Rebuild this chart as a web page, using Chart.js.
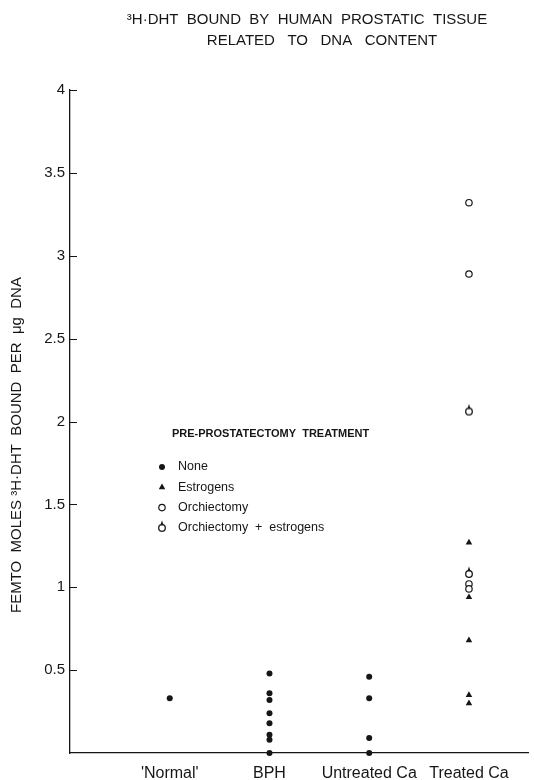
<!DOCTYPE html>
<html>
<head>
<meta charset="utf-8">
<script src="https://cdn.jsdelivr.net/npm/chart.js@4"></script>
<style>
  html, body { margin: 0; padding: 0; background: #fff; }
  #wrap { width: 534px; height: 780px; }
</style>
</head>
<body>
<div id="wrap"><canvas id="grafico"></canvas></div>
<script>
const categorias = ["'Normal'", 'BPH', 'Untreated Ca', 'Treated Ca'];
const yTicks = [0.5, 1, 1.5, 2, 2.5, 3, 3.5, 4];

// valores (fmol por ug DNA)
const nenhumNormal = [0.33];
const nenhumBPH = [0.48, 0.36, 0.32, 0.24, 0.18, 0.11, 0.08, 0.0];
const nenhumUntreated = [0.46, 0.33, 0.09, 0.0];
const estrogenosTreated = [1.27, 0.94, 0.68, 0.35, 0.30];
const orquiTreated = [3.32, 2.89, 1.02, 0.99];
const orquiEstrTreated = [2.06, 1.08];

const FONTE = '"Liberation Sans", Arial, sans-serif';
const COR = '#161616';

function pontos(cat, vals) {
  const x = categorias.indexOf(cat) + 1;
  return vals.map(v => ({ x: x, y: v }));
}

// marcador: circulo aberto com ponta em cima
const gota = document.createElement('canvas');
gota.width = 12; gota.height = 20;
(function () {
  const c = gota.getContext('2d');
  c.strokeStyle = COR; c.fillStyle = COR; c.lineWidth = 1.3;
  c.beginPath(); c.arc(6, 10, 3.3, 0, Math.PI * 2); c.stroke();
  c.beginPath(); c.moveTo(6, 2.5); c.lineTo(7.6, 7.2); c.lineTo(4.4, 7.2); c.closePath(); c.fill();
})();

const dados = {
  datasets: [{
    label: 'None',
    data: [].concat(pontos("'Normal'", nenhumNormal), pontos('BPH', nenhumBPH), pontos('Untreated Ca', nenhumUntreated)),
    pointStyle: 'circle', pointRadius: 3, backgroundColor: COR, borderColor: COR, borderWidth: 0
  }, {
    label: 'Estrogens',
    data: pontos('Treated Ca', estrogenosTreated),
    pointStyle: 'triangle', pointRadius: 3.8, backgroundColor: COR, borderColor: COR, borderWidth: 0
  }, {
    label: 'Orchiectomy',
    data: pontos('Treated Ca', orquiTreated),
    pointStyle: 'circle', pointRadius: 3.2, backgroundColor: '#fff', borderColor: COR, borderWidth: 1.2
  }, {
    label: 'Orchiectomy  +  estrogens',
    data: pontos('Treated Ca', orquiEstrTreated),
    pointStyle: gota, pointRadius: 4, backgroundColor: '#fff', borderColor: COR, borderWidth: 1.2
  }]
};
dados.datasets.forEach(ds => { ds.clip = false; });

const textos = {
  id: 'textos',
  afterDraw(chart) {
    const ctx = chart.ctx;
    const area = chart.chartArea;
    const y = chart.scales.y;
    ctx.save();
    ctx.fillStyle = COR;
    ctx.strokeStyle = COR;

    // titulo
    ctx.font = '15px ' + FONTE;
    ctx.textAlign = 'center';
    ctx.textBaseline = 'middle';
    ctx.fillText('\u00b3H\u00b7DHT  BOUND  BY  HUMAN  PROSTATIC  TISSUE', 307, 20);
    ctx.fillText('RELATED   TO   DNA   CONTENT', 322, 41);

    // titulo do eixo y
    ctx.save();
    ctx.translate(17, 445);
    ctx.rotate(-Math.PI / 2);
    ctx.font = '15px ' + FONTE;
    ctx.fillText('FEMTO  MOLES \u00b3H\u00b7DHT  BOUND  PER  \u03bcg  DNA', 0, 0);
    ctx.restore();

    // marcas do eixo y para dentro
    ctx.lineWidth = 1;
    yTicks.forEach(v => {
      const py = Math.round(y.getPixelForValue(v)) + 0.5;
      ctx.beginPath();
      ctx.moveTo(area.left, py);
      ctx.lineTo(area.left + 7, py);
      ctx.stroke();
    });

    // legenda
    ctx.textAlign = 'left';
    ctx.font = '600 11px ' + FONTE;
    ctx.fillText('PRE-PROSTATECTOMY  TREATMENT', 172, 434);
    ctx.font = '12.5px ' + FONTE;
    chart.data.datasets.forEach((ds, i) => {
      const ly = 467 + i * 20.3;
      ctx.fillStyle = ds.backgroundColor;
      ctx.strokeStyle = ds.borderColor;
      ctx.lineWidth = ds.borderWidth;
      Chart.helpers.drawPoint(ctx, { pointStyle: ds.pointStyle, radius: ds.pointRadius, rotation: 0, borderWidth: ds.borderWidth }, 162, ly);
      ctx.fillStyle = COR;
      ctx.fillText(ds.label, 178, ly);
    });
    ctx.restore();
  }
};

new Chart(document.getElementById('grafico'), {
  type: 'scatter',
  data: dados,
  options: {
    responsive: true,
    maintainAspectRatio: false,
    animation: false,
    layout: { padding: { top: 90, right: 4, left: 0, bottom: 0 } },
    plugins: { legend: { display: false }, title: { display: false }, tooltip: { enabled: false } },
    elements: { point: { hoverRadius: 0 } },
    scales: {
      x: {
        type: 'linear', min: 0, max: 4.6,
        afterBuildTicks: s => { s.ticks = categorias.map((c, i) => ({ value: i + 1 })); },
        afterFit: s => { s.height = 27; },
        grid: { display: false, drawTicks: false },
        border: { display: true, color: COR, width: 1.3 },
        ticks: {
          padding: 11, color: COR, font: { family: FONTE, size: 16 },
          autoSkip: false, maxRotation: 0,
          callback: v => categorias[v - 1] || ''
        }
      },
      y: {
        type: 'linear', min: 0, max: 4,
        afterBuildTicks: s => { s.ticks = yTicks.map(v => ({ value: v })); },
        afterFit: s => { s.width = 70; },
        grid: { display: false, drawTicks: false },
        border: { display: true, color: COR, width: 1.3 },
        ticks: { padding: 5, color: COR, font: { family: FONTE, size: 15 }, callback: v => String(v) }
      }
    }
  },
  plugins: [textos]
});
</script>
</body>
</html>
